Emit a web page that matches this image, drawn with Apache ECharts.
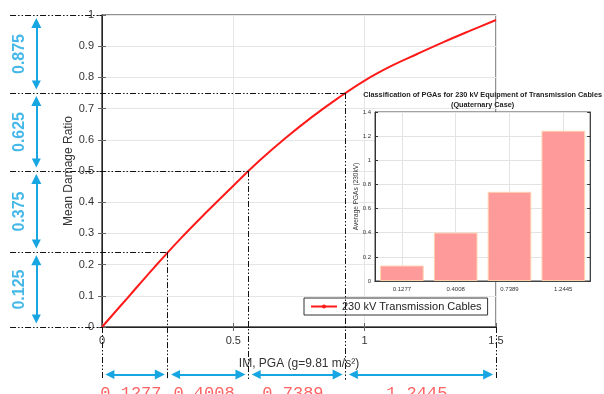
<!DOCTYPE html>
<html><head><meta charset="utf-8">
<script src="https://cdn.jsdelivr.net/npm/echarts@6/dist/echarts.min.js"></script>
<style>html,body{margin:0;padding:0;background:#fff}#c{width:604px;height:394px}</style>
</head><body><div id="c"></div>
<script>
// ---- data ----
const curveX = [0,0.1,0.2,0.3,0.4,0.5,0.6,0.7,0.8,0.9,1.0,1.1,1.2,1.3,1.4,1.5];
const curveY = [0,0.096,0.192,0.284,0.37,0.453,0.5335,0.6065,0.6735,0.7345,0.79,0.836,0.875,0.913,0.949,0.984];
const pgaEdges = [0,0.25,0.557,0.927,1.5];
const damageEdges = [0,0.24,0.5,0.75,1];
const damageMidLabels = ['0.125','0.375','0.625','0.875'];
const pgaCategories = ['0.1277','0.4008','0.7389','1.2445'];
const pgaAverages = [0.1277,0.4008,0.7389,1.2445];
const seriesName = '230 kV Transmission Cables';
const insetTitle = 'Classification of PGAs for 230 kV Equipment of Transmission Cables\n(Quaternary Case)';

// ---- layout constants (data units of the main axes) ----
const dashLeft = -0.35, dashBottom = -0.169;
const arrowX = -0.25, arrowY = -0.152, gapX = 0.03, gapY = 0.026;
const cyanLabelX = -0.315, redLabelY = -0.212;
const cyan = '#17a6e2';
const dashPattern = [6,2,1.5,2,1.5,2];

const curve = curveX.map((x,i)=>[x,curveY[i]]);
const dashLines = [];
for (let i=0;i<5;i++){
  const yEnd = i===4 ? 0 : pgaEdges[i];
  dashLines.push({coords:[[dashLeft,damageEdges[i]],[yEnd,damageEdges[i]]]});
  const yStart = i===4 ? 0 : damageEdges[i];
  dashLines.push({coords:[[pgaEdges[i],yStart],[pgaEdges[i],dashBottom]]});
}
const arrows = [];
for (let i=0;i<4;i++){
  arrows.push({coords:[[arrowX,damageEdges[i]+gapY],[arrowX,damageEdges[i+1]-gapY]]});
  arrows.push({coords:[[pgaEdges[i]+gapX,arrowY],[pgaEdges[i+1]-gapX,arrowY]]});
}
const cyanLabels = damageMidLabels.map((t,i)=>({name:t,value:[cyanLabelX,(damageEdges[i]+damageEdges[i+1])/2]}));
const redLabels = pgaCategories.map((t,i)=>({name:t,value:[(pgaEdges[i]+pgaEdges[i+1])/2-0.015,redLabelY]}));

const chart = echarts.init(document.getElementById('c'));
const txt = '#333';
const option = {
  animation:false,
  backgroundColor:'#fff',
  textStyle:{fontFamily:'Liberation Sans, Arial, sans-serif'},
  legend:{
    data:[seriesName], left:304, top:298, padding:[3,6,3,6], itemWidth:26, itemHeight:5,
    borderColor:'#333', borderWidth:1, backgroundColor:'#fff', borderRadius:0,
    textStyle:{fontSize:11,color:'#222'}, z:4
  },
  grid:[
    {left:102,top:15,width:394,height:312,show:true,borderColor:'#222',borderWidth:1,backgroundColor:'transparent',containLabel:false},
    {left:375,top:112,width:222,height:169,show:true,borderColor:'#444',borderWidth:1,backgroundColor:'#fff',z:3}
  ],
  xAxis:[
    {type:'value',gridIndex:0,min:0,max:1.5,interval:0.5,
     axisLine:{lineStyle:{color:'#666',width:1.5}},
     axisTick:{inside:true,length:4,lineStyle:{color:'#666'}},
     axisLabel:{fontSize:11,color:txt,margin:8,formatter:v=>String(v)},
     splitLine:{show:true,lineStyle:{color:'#e6e6e6'}},
     name:'IM, PGA (g=9.81 m/s²)',nameLocation:'middle',nameGap:31,nameMoveOverlap:false,nameTextStyle:{fontSize:12,color:txt}},
    {type:'value',gridIndex:0,position:'top',min:0,max:1.5,interval:0.5,
     axisLine:{lineStyle:{color:'#222',width:1}},axisTick:{inside:true,length:4,lineStyle:{color:'#666'}},
     axisLabel:{show:false},splitLine:{show:false}},
    {type:'category',gridIndex:1,data:pgaCategories,
     axisLine:{lineStyle:{color:'#333',width:1}},
     axisTick:{inside:true,length:3,alignWithLabel:true,lineStyle:{color:'#333'}},
     axisLabel:{fontSize:6,color:txt,margin:5},
     splitLine:{show:true,alignWithLabel:true,lineStyle:{color:'#e3e3e3'}},z:3},
    {type:'category',gridIndex:1,position:'top',data:pgaCategories,
     axisLine:{lineStyle:{color:'#444',width:1}},
     axisTick:{inside:true,length:3,alignWithLabel:true,lineStyle:{color:'#333'}},
     axisLabel:{show:false},splitLine:{show:false},
     name:insetTitle,nameLocation:'middle',nameGap:2,nameMoveOverlap:false,
     nameTextStyle:{fontSize:7.3,fontWeight:'bold',color:'#222',lineHeight:10},z:3}
  ],
  yAxis:[
    {type:'value',gridIndex:0,min:0,max:1,interval:0.1,
     axisLine:{lineStyle:{color:'#666',width:1.5}},
     axisTick:{inside:true,length:4,lineStyle:{color:'#666'}},
     axisLabel:{fontSize:11,color:txt,margin:8,formatter:v=>String(+v.toFixed(1))},
     splitLine:{show:true,lineStyle:{color:'#e6e6e6'}},
     name:'Mean Damage Ratio',nameLocation:'middle',nameGap:27,nameMoveOverlap:false,nameTextStyle:{fontSize:12,color:txt}},
    {type:'value',gridIndex:0,position:'right',min:0,max:1,interval:0.1,
     axisLine:{show:true,lineStyle:{color:'#222',width:1}},axisTick:{show:true,inside:true,length:4,lineStyle:{color:'#666'}},
     axisLabel:{show:false},splitLine:{show:false}},
    {type:'value',gridIndex:1,min:0,max:1.4,interval:0.2,
     axisLine:{show:true,lineStyle:{color:'#333',width:1}},
     axisTick:{show:true,inside:true,length:3,lineStyle:{color:'#333'}},
     axisLabel:{fontSize:6,color:txt,margin:4,formatter:v=>String(+v.toFixed(1))},
     splitLine:{show:true,lineStyle:{color:'#e3e3e3'}},
     name:'Average PGAs (230kV)',nameLocation:'middle',nameGap:15,nameMoveOverlap:false,nameTextStyle:{fontSize:6.5,color:txt},z:3},
    {type:'value',gridIndex:1,position:'right',min:0,max:1.4,interval:0.2,
     axisLine:{show:true,lineStyle:{color:'#444',width:1}},
     axisTick:{show:true,inside:true,length:3,lineStyle:{color:'#333'}},
     axisLabel:{show:false},splitLine:{show:false},z:3}
  ],
  series:[
    {type:'line',name:seriesName,xAxisIndex:0,yAxisIndex:0,data:curve,smooth:0.4,
     symbol:'circle',symbolSize:3,showSymbol:false,
     itemStyle:{color:'#ff1a1a'},lineStyle:{color:'#ff1a1a',width:2},z:3},
    {type:'lines',coordinateSystem:'cartesian2d',xAxisIndex:0,yAxisIndex:0,clip:false,
     data:dashLines,symbol:['none','none'],
     lineStyle:{color:'#111',width:1,type:dashPattern,opacity:1},z:6,silent:true},
    {type:'lines',coordinateSystem:'cartesian2d',xAxisIndex:0,yAxisIndex:0,clip:false,
     data:arrows,symbol:['triangle','triangle'],symbolSize:[9,10],
     lineStyle:{color:cyan,width:2,opacity:1},itemStyle:{color:cyan},z:7,silent:true},
    {type:'scatter',xAxisIndex:0,yAxisIndex:0,clip:false,data:cyanLabels,symbolSize:1,
     itemStyle:{color:'rgba(0,0,0,0)'},silent:true,z:7,
     label:{show:true,position:'inside',formatter:'{b}',rotate:90,fontSize:16,fontWeight:'bold',color:cyan}},
    {type:'scatter',xAxisIndex:0,yAxisIndex:0,clip:false,data:redLabels,symbolSize:1,
     itemStyle:{color:'rgba(0,0,0,0)'},silent:true,z:7,
     label:{show:true,position:'inside',formatter:'{b}',fontSize:17,color:'#ff3b3b',fontFamily:'Liberation Mono, Courier New, monospace'}},
    {type:'bar',xAxisIndex:2,yAxisIndex:2,data:pgaAverages,barCategoryGap:'19%',
     itemStyle:{color:'#ff9a9a',borderColor:'#ffd2ae',borderWidth:1},z:5}
  ]
};
chart.setOption(option);
</script></body></html>
